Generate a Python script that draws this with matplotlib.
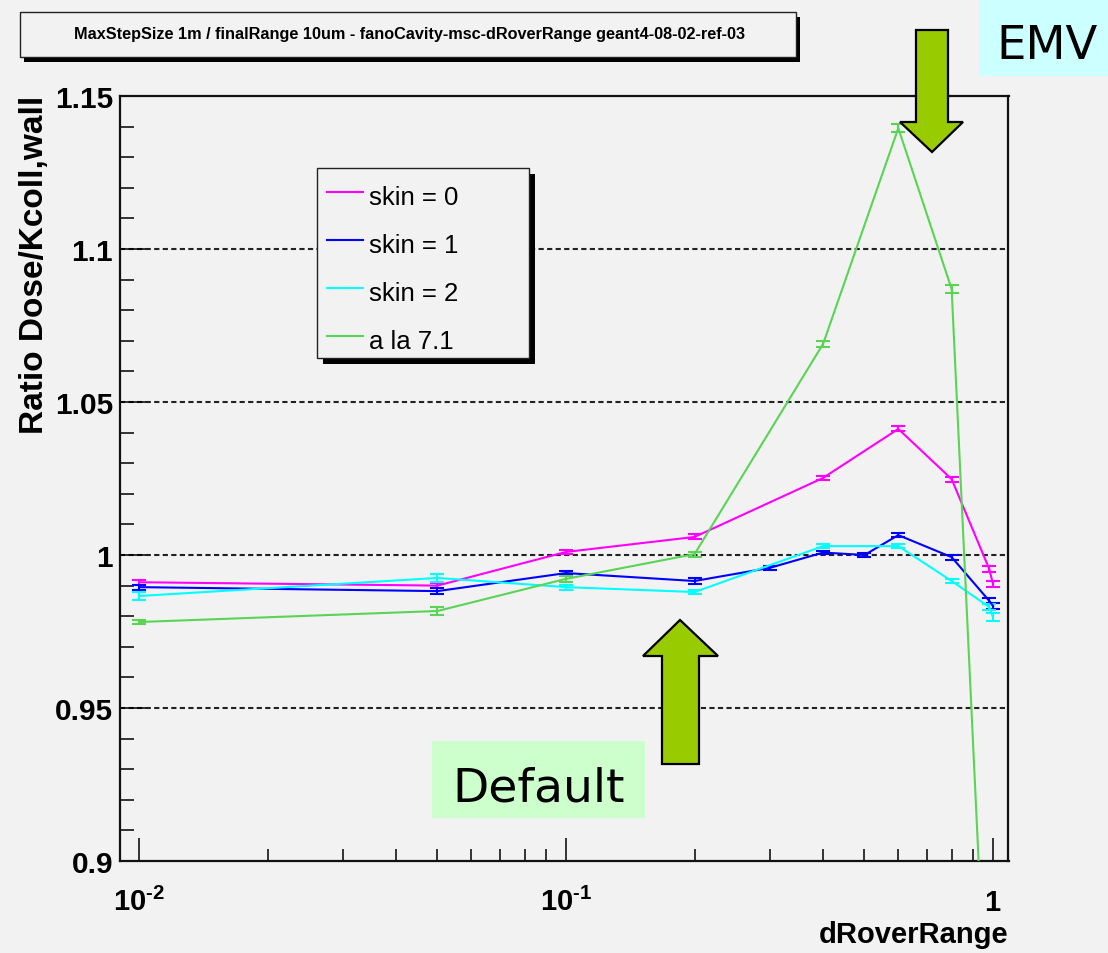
import numpy as np
import matplotlib.pyplot as plt
from matplotlib.patches import Rectangle, Polygon
from matplotlib.lines import Line2D
from matplotlib.ticker import MultipleLocator, LogLocator, NullFormatter

W, H = 1108, 954

# dRoverRange scan, ratio Dose/Kcoll,wall
x_skin0 = [0.01, 0.05, 0.1, 0.2, 0.4, 0.6, 0.8, 0.98, 1.0]
y_skin0 = [0.9911, 0.9900, 1.0010, 1.0059, 1.0252, 1.0412, 1.0248, 0.9954, 0.9905]
e_skin0 = [0.0008, 0.0008, 0.0006, 0.0008, 0.0006, 0.0008, 0.0008, 0.0011, 0.0011]

x_skin1 = [0.01, 0.05, 0.1, 0.2, 0.3, 0.4, 0.5, 0.6, 0.8, 0.98, 1.0]
y_skin1 = [0.9895, 0.9882, 0.9941, 0.9915, 0.9958, 1.0008, 1.0000, 1.0065, 0.9993, 0.9850, 0.9833]
e_skin1 = [0.0008, 0.0010, 0.0006, 0.0010, 0.0006, 0.0006, 0.0005, 0.0007, 0.0008, 0.0010, 0.0010]

x_skin2 = [0.01, 0.05, 0.1, 0.2, 0.4, 0.6, 0.8, 0.98, 1.0]
y_skin2 = [0.9866, 0.9925, 0.9895, 0.9879, 1.0029, 1.0029, 0.9915, 0.9830, 0.9797]
e_skin2 = [0.0013, 0.0013, 0.0008, 0.0008, 0.0007, 0.0007, 0.0008, 0.0010, 0.0012]

x_ala71 = [0.01, 0.05, 0.1, 0.2, 0.4, 0.6, 0.8, 1.0]
y_ala71 = [0.9781, 0.9817, 0.9922, 1.0003, 1.0690, 1.1395, 1.0869, 0.8000]
e_ala71 = [0.0006, 0.0012, 0.0010, 0.0008, 0.0010, 0.0012, 0.0012, 0.0012]

labels = ['skin = 0', 'skin = 1', 'skin = 2', 'a la 7.1']
colors = ['#ff00ff', '#0000ff', '#00ffff', '#59d454']

y_ticks = [0.9, 0.95, 1.0, 1.05, 1.1, 1.15]
y_ticklabels = ['0.9', '0.95', '1', '1.05', '1.1', '1.15']
x_ticks = [0.01, 0.1, 1.0]
x_ticklabels = [r'$\mathbf{10^{\text{-}2}}$', r'$\mathbf{10^{\text{-}1}}$', r'$\mathbf{1}$']

plt.rcParams['font.family'] = 'Liberation Sans'
plt.rcParams['mathtext.fontset'] = 'custom'
plt.rcParams['mathtext.rm'] = 'Liberation Sans:bold'
plt.rcParams['mathtext.bf'] = 'Liberation Sans:bold'

bg = '#f2f2f2'


def fx(px):
    return px / W


def fy(py):
    return 1 - py / H


fig = plt.figure(figsize=(W / 100, H / 100), dpi=100, facecolor=bg)
ax = fig.add_axes([fx(119.5), fy(862), (1008.5 - 119.5) / W, (862 - 97) / H])
ax.set_facecolor(bg)

series = [(x_skin0, y_skin0, e_skin0), (x_skin1, y_skin1, e_skin1),
          (x_skin2, y_skin2, e_skin2), (x_ala71, y_ala71, e_ala71)]
for (xs, ys, es), c in zip(series, colors):
    ax.errorbar(xs, ys, yerr=es, color=c, lw=1.5, elinewidth=1.5,
                capsize=4.7, capthick=1.5, zorder=3)

ax.set_xscale('log')
ax.set_xlim(0.009, 1.087)
ax.set_ylim(0.9, 1.15)

# horizontal dashed grid
for yv in y_ticks[1:-1]:
    ax.axhline(yv, color='#222222', lw=1.5, ls=(0, (2.5, 1.6)), zorder=1)

ax.set_yticks(y_ticks)
ax.set_yticklabels(y_ticklabels, fontsize=21.5, fontweight='bold')
ax.yaxis.set_minor_locator(MultipleLocator(0.01))
ax.set_xticks(x_ticks)
ax.set_xticklabels(x_ticklabels, fontsize=21)
ax.xaxis.set_minor_locator(LogLocator(base=10, subs=np.arange(2, 10)))
ax.xaxis.set_minor_formatter(NullFormatter())

ax.tick_params(axis='y', which='major', direction='in', length=18.7, width=1.1, pad=4.7)
ax.tick_params(axis='y', which='minor', direction='in', length=10, width=1.1)
ax.tick_params(axis='x', which='major', direction='in', length=16.5, width=1.1, pad=35)
ax.tick_params(axis='x', which='minor', direction='in', length=8.6, width=1.1)
for lbl in ax.get_xticklabels():
    lbl.set_verticalalignment('baseline')

for sp in ax.spines.values():
    sp.set_linewidth(1.6)
    sp.set_color('#111111')

fig.text(fx(1008), fy(935), 'dRoverRange', fontsize=21, fontweight='bold',
         ha='right', va='center')
fig.text(fx(35), fy(96), 'Ratio Dose/Kcoll,wall', fontsize=24, fontweight='bold',
         rotation=90, ha='center', va='top')

# title box with shadow
fig.add_artist(Rectangle((fx(24), fy(63)), (800 - 24) / W, (63 - 18) / H,
                         transform=fig.transFigure, facecolor='black', edgecolor='none'))
fig.add_artist(Rectangle((fx(20), fy(58)), (796 - 20) / W, (58 - 13) / H,
                         transform=fig.transFigure, facecolor=bg, edgecolor='#222222', lw=1))
fig.text(fx(410), fy(34),
         'MaxStepSize 1m / finalRange 10um - fanoCavity-msc-dRoverRange geant4-08-02-ref-03',
         fontsize=11.7, fontweight='bold', ha='center', va='center')

# legend box
fig.add_artist(Rectangle((fx(323), fy(365)), (535 - 323) / W, (365 - 175) / H,
                         transform=fig.transFigure, facecolor='black', edgecolor='none', zorder=4))
fig.add_artist(Rectangle((fx(317), fy(359)), (529 - 317) / W, (359 - 169) / H,
                         transform=fig.transFigure, facecolor=bg, edgecolor='#222222', lw=1, zorder=4))
row_y = [193, 241, 289, 337]
for lab, c, ry in zip(labels, colors, row_y):
    fig.add_artist(Line2D([fx(327), fx(363)], [fy(ry), fy(ry)], transform=fig.transFigure,
                          color=c, lw=1.5, zorder=5))
    fig.text(fx(369), fy(ry + 12), lab, fontsize=18.5, ha='left', va='baseline', zorder=5)

# arrows
arrow_color = '#99cc00'
down_pts = [(916, 31), (948, 31), (948, 123), (963, 123), (932, 153), (900, 123), (916, 123)]
up_pts = [(680, 621), (718, 657), (699, 657), (699, 765), (662, 765), (662, 657), (643, 657)]
for pts in (down_pts, up_pts):
    fig.add_artist(Polygon([(fx(a), fy(b)) for a, b in pts], closed=True,
                           transform=fig.transFigure, facecolor=arrow_color,
                           edgecolor='black', lw=1.6, joinstyle='miter', zorder=6))

# annotation labels
fig.add_artist(Rectangle((fx(979), fy(77)), (1108 - 979) / W, 77 / H,
                         transform=fig.transFigure, facecolor='#ccffff', edgecolor='none', zorder=6))
fig.text(fx(996), fy(59), 'EMV', fontsize=33.5, family='DejaVu Sans',
         ha='left', va='baseline', zorder=7)
fig.add_artist(Rectangle((fx(432), fy(819)), (645 - 432) / W, (819 - 742) / H,
                         transform=fig.transFigure, facecolor='#ccffcc', edgecolor='none', zorder=6))
fig.text(fx(452), fy(801), 'Default', fontsize=34, family='DejaVu Sans',
         ha='left', va='baseline', zorder=7)

plt.savefig('out.png', dpi=100, facecolor=bg)
